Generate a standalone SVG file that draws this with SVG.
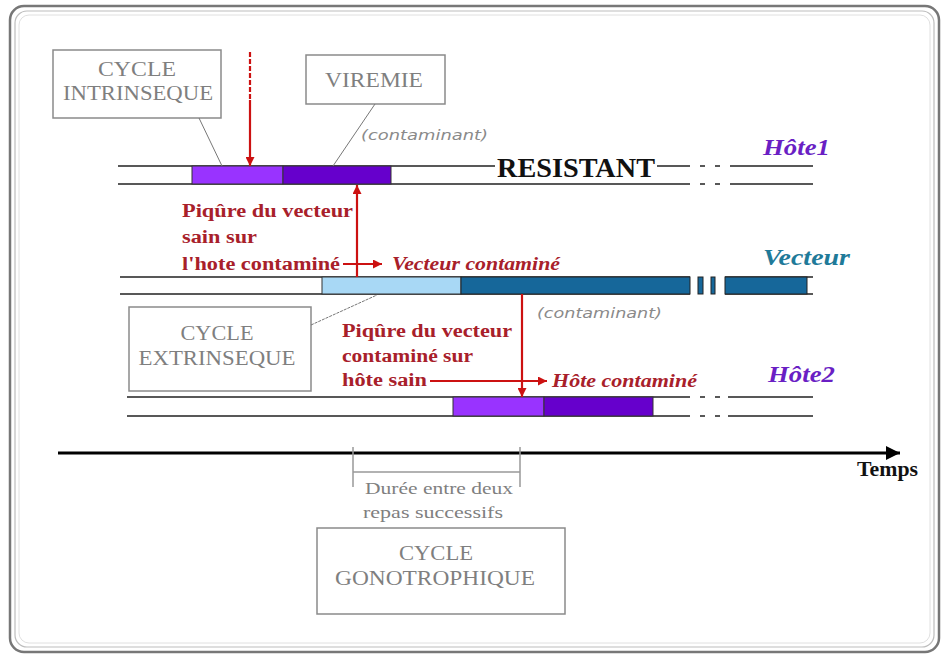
<svg xmlns="http://www.w3.org/2000/svg" width="941" height="655" viewBox="0 0 941 655">
<defs>
<style>
.serif{font-family:"Liberation Serif","Times New Roman","DejaVu Serif",serif}
.box{fill:#fff;stroke:#8a8a8a;stroke-width:1.5}
.boxt{font-family:"Liberation Serif","Times New Roman","DejaVu Serif",serif;font-size:20px;fill:#7f7f7f}
.lead{stroke:#777;stroke-width:1;fill:none}
.bl{stroke:#222;stroke-width:1.5;fill:none}
.red{stroke:#cc1111;stroke-width:2.2;fill:none}
.rt{font-family:"Liberation Serif","Times New Roman","DejaVu Serif",serif;font-size:18px;font-weight:bold;fill:#a8202a}
.rti{font-family:"Liberation Serif","Times New Roman","DejaVu Serif",serif;font-size:18px;font-weight:bold;font-style:italic;fill:#a8202a}
.cont{font-family:"DejaVu Sans",sans-serif;font-size:14px;font-style:italic;fill:#8a8a8a}
.name{font-family:"Liberation Serif","Times New Roman","DejaVu Serif",serif;font-size:24px;font-weight:bold;font-style:italic}
.lp{fill:#9933ff;stroke:#333;stroke-width:1}
.dp{fill:#6600cc;stroke:#333;stroke-width:1}
.lb{fill:#a8d8f5;stroke:#333;stroke-width:1}
.db{fill:#16679a;stroke:#222;stroke-width:1}
</style>
<marker id="ra" viewBox="0 0 10 10" refX="10" refY="5" markerWidth="9" markerHeight="9" markerUnits="userSpaceOnUse" orient="auto"><path d="M0,0 L10,5 L0,10 z" fill="#cc1111"/></marker>
<marker id="ka" viewBox="0 0 10 10" refX="10" refY="5" markerWidth="14" markerHeight="14" markerUnits="userSpaceOnUse" orient="auto"><path d="M0,0 L10,5 L0,10 z" fill="#000"/></marker>
</defs>
<rect width="941" height="655" fill="#fff"/>
<g id="frame" fill="none">
<rect x="10" y="6" width="929" height="646" rx="14" stroke="#777" stroke-width="2.5"/>
<rect x="15" y="11" width="919" height="636" rx="12" stroke="#bdbdbd" stroke-width="1.2"/>
<rect x="19" y="15" width="911" height="628" rx="10" stroke="#e0e0e0" stroke-width="1"/>
</g>
<g id="host1">
<path class="bl" d="M118,166 H495 M657,166 H690 M700,166 H705 M715,166 H720 M730,166 H813 M118,184 H690 M700,184 H705 M715,184 H720 M730,184 H813"/>
<rect class="lp" x="192" y="166" width="91" height="18"/>
<rect class="dp" x="283" y="166" width="108" height="18"/>
<text class="serif" x="497" y="177" font-size="27" font-weight="bold" fill="#111" textLength="158" lengthAdjust="spacingAndGlyphs">RESISTANT</text>
<text class="name" x="763" y="155" fill="#6a1fc4" textLength="67" lengthAdjust="spacingAndGlyphs">Hôte1</text>
</g>
<g id="vector">
<path class="bl" d="M120,277 H690 M725,277 H813 M120,294 H690 M725,294 H813"/>
<rect class="lb" x="322" y="277" width="139" height="17"/>
<rect class="db" x="461" y="277" width="229" height="17"/>
<rect class="db" x="698" y="277" width="5" height="17"/>
<rect class="db" x="711" y="277" width="4" height="17"/>
<rect class="db" x="725" y="277" width="82" height="17"/>
<text class="name" x="763" y="265" fill="#1f7a99" textLength="87" lengthAdjust="spacingAndGlyphs">Vecteur</text>
</g>
<g id="host2">
<path class="bl" d="M127,397 H690 M700,397 H705 M715,397 H720 M728,397 H813 M127,416 H690 M700,416 H705 M715,416 H720 M728,416 H813"/>
<rect class="lp" x="453" y="397" width="91" height="19"/>
<rect class="dp" x="544" y="397" width="109" height="19"/>
<text class="name" x="768" y="382" fill="#6a1fc4" textLength="67" lengthAdjust="spacingAndGlyphs">Hôte2</text>
</g>
<g id="cycle-intrinseque">
<rect class="box" x="53" y="50" width="168" height="68"/>
<text class="boxt" x="137" y="76" text-anchor="middle" textLength="78" lengthAdjust="spacingAndGlyphs">CYCLE</text>
<text class="boxt" x="138" y="100" text-anchor="middle" textLength="150" lengthAdjust="spacingAndGlyphs">INTRINSEQUE</text>
</g>
<g id="viremie">
<rect class="box" x="306" y="55" width="139" height="49"/>
<text class="boxt" x="374" y="87" text-anchor="middle" textLength="98" lengthAdjust="spacingAndGlyphs">VIREMIE</text>
</g>
<g id="cycle-extrinseque">
<rect class="box" x="129" y="307" width="182" height="84"/>
<text class="boxt" x="217" y="340" text-anchor="middle" textLength="73" lengthAdjust="spacingAndGlyphs">CYCLE</text>
<text class="boxt" x="217" y="365" text-anchor="middle" textLength="157" lengthAdjust="spacingAndGlyphs">EXTRINSEQUE</text>
</g>
<g id="cycle-gonotrophique">
<rect class="box" x="317" y="528" width="248" height="86"/>
<text class="boxt" x="436" y="560" text-anchor="middle" textLength="74" lengthAdjust="spacingAndGlyphs">CYCLE</text>
<text class="boxt" x="435" y="585" text-anchor="middle" textLength="200" lengthAdjust="spacingAndGlyphs">GONOTROPHIQUE</text>
</g>
<g id="labels">
<text class="cont" x="361" y="140" textLength="127" lengthAdjust="spacingAndGlyphs">(contaminant)</text>
<text class="cont" x="537" y="318" textLength="125" lengthAdjust="spacingAndGlyphs">(contaminant)</text>
<text class="rt" x="182" y="217" textLength="171" lengthAdjust="spacingAndGlyphs">Piqûre du vecteur</text>
<text class="rt" x="182" y="243" textLength="75" lengthAdjust="spacingAndGlyphs">sain sur</text>
<text class="rt" x="182" y="270" textLength="158" lengthAdjust="spacingAndGlyphs">l'hote contaminé</text>
<text class="rti" x="392" y="270" textLength="168" lengthAdjust="spacingAndGlyphs">Vecteur contaminé</text>
<text class="rt" x="342" y="337" textLength="170" lengthAdjust="spacingAndGlyphs">Piqûre du vecteur</text>
<text class="rt" x="342" y="362" textLength="131" lengthAdjust="spacingAndGlyphs">contaminé sur</text>
<text class="rt" x="342" y="386" textLength="85" lengthAdjust="spacingAndGlyphs">hôte sain</text>
<text class="rti" x="552" y="387" textLength="145" lengthAdjust="spacingAndGlyphs">Hôte contaminé</text>
<text class="serif" x="857" y="476" font-size="20" font-weight="bold" fill="#111" textLength="61" lengthAdjust="spacingAndGlyphs">Temps</text>
<text class="serif" x="365" y="494" font-size="17" fill="#7f7f7f" textLength="148" lengthAdjust="spacingAndGlyphs">Durée entre deux</text>
<text class="serif" x="363" y="518" font-size="17" fill="#7f7f7f" textLength="140" lengthAdjust="spacingAndGlyphs">repas successifs</text>
</g>
<g id="connectors">
<path class="lead" d="M199,118 L222,166"/>
<path class="lead" d="M375,104 L333,166"/>
<path class="lead" d="M311,325 L377,295" stroke-dasharray="3,1"/>
<path class="red" d="M250,52 V100" stroke-dasharray="5,2"/>
<path class="red" d="M250,100 V166" marker-end="url(#ra)"/>
<path class="red" d="M357,277 V185" marker-end="url(#ra)"/>
<path class="red" d="M343,264 H382" marker-end="url(#ra)"/>
<path class="red" d="M522,294 V397" marker-end="url(#ra)"/>
<path class="red" d="M430,381 H547" marker-end="url(#ra)"/>
<path d="M58,453 H900" stroke="#000" stroke-width="3" marker-end="url(#ka)"/>
<path d="M353,447 V487 M520,447 V487 M353,472 H520" stroke="#999" stroke-width="1.5" fill="none"/>
</g>
</svg>
